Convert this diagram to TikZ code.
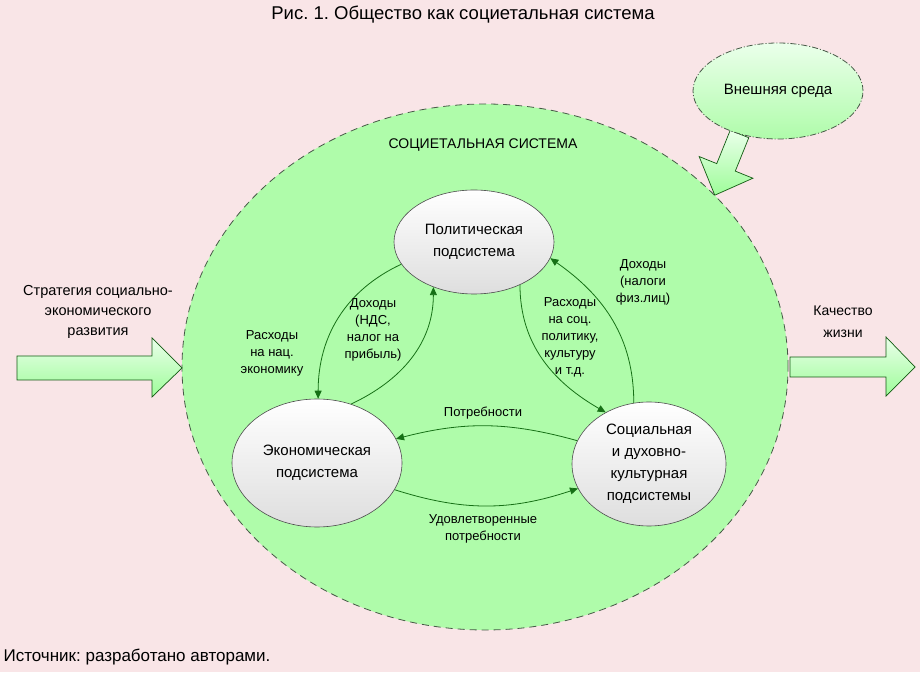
\documentclass[tikz,border=0pt]{standalone}
\usepackage{fontspec}
\setmainfont{Liberation Sans}
\usepackage{tikz}
\usetikzlibrary{arrows.meta, shapes.geometric}
\frenchspacing

\definecolor{bgpink}{RGB}{249,229,231}
\definecolor{sysgreen}{RGB}{175,252,170}
\definecolor{flowgreen}{RGB}{22,112,22}
\definecolor{rimgray}{RGB}{70,88,70}

\begin{document}
\begin{tikzpicture}[x=1pt,y=1pt,>={Triangle[length=8pt,width=7pt]},
        subsys/.style={ellipse,draw=black!70,line width=0.6pt,top color=white,bottom color=black!13,
          inner sep=0pt,align=center,font=\fontsize{15}{22}\selectfont},
        flow/.style={->,draw=flowgreen,line width=0.8pt},
        lbl/.style={align=center,font=\fontsize{13}{17}\selectfont},
        bigarrow/.style={draw=flowgreen!80!black,line width=0.7pt,top color=green!8,bottom color=sysgreen!90!green,line join=miter}]

    \fill[bgpink] (0,0) rectangle (920,672);
    \node[font=\fontsize{18.5}{22}\selectfont] (title) at (463,657) {Рис. 1. Общество как социетальная система};
    \node[anchor=west,font=\fontsize{17}{20}\selectfont] (source) at (0,15) {Источник: разработано авторами.};

    % societal system
    \node[ellipse,fill=sysgreen,draw=rimgray,line width=0.8pt,dash pattern=on 7pt off 5pt,
          minimum width=606,minimum height=526] (system) at (485,305) {};
    \node[font=\fontsize{14}{17}\selectfont] (syslabel) at (483,527) {СОЦИЕТАЛЬНАЯ СИСТЕМА};

    % inputs and outputs
    \draw[bigarrow] (17,292) -- (152,292) -- (152,275) -- (182,304) -- (152,334) -- (152,316) -- (17,316) -- cycle;
    \draw[bigarrow] (790,295) -- (886,295) -- (886,276) -- (915,305) -- (886,335) -- (886,315) -- (790,315) -- cycle;
    \begin{scope}[shift={(739.5,538)},rotate=248]
        \draw[bigarrow] (0,10) -- (36,10) -- (36,29) -- (66,0) -- (36,-29) -- (36,-10) -- (0,-10) -- cycle;
    \end{scope}
    \node[ellipse,draw=rimgray,line width=0.8pt,dash pattern=on 6pt off 2pt on 1pt off 2pt,
          top color=green!8,bottom color=sysgreen,minimum width=170,minimum height=96,
          font=\fontsize{15}{18}\selectfont] (env) at (778,581) {Внешняя среда};

    \node[lbl,font=\fontsize{14.5}{20}\selectfont] (strategy) at (98,360) {Стратегия социально-\\экономического\\развития};
    \node[lbl,font=\fontsize{14}{22}\selectfont] (quality) at (843,350) {Качество\\жизни};

    % subsystems
    \node[subsys,minimum width=160,minimum height=104] (pol) at (474,430) {Политическая\\подсистема};
    \node[subsys,minimum width=170,minimum height=128] (eco) at (317,209) {Экономическая\\подсистема};
    \node[subsys,minimum width=154,minimum height=124] (soc) at (649,208) {Социальная\\и духовно-\\культурная\\подсистемы};

    % flows
    \draw[flow] (pol.197) to[out=205,in=90] (eco.89);
    \draw[flow] (eco.60) to[out=25,in=-90] (pol.228);
    \draw[flow] (pol.317) to[out=-90,in=150] (soc.130);
    \draw[flow] (soc.104) to[out=90,in=-35] (pol.348);
    \draw[flow] (soc.162) to[bend right=15] (eco.17);
    \draw[flow] (eco.341) to[bend right=18] (soc.199);

    \node[lbl] (ecoexp) at (272,319) {Расходы\\на нац.\\экономику};
    \node[lbl] (ecoinc) at (373,342) {Доходы\\(НДС,\\налог на\\прибыль)};
    \node[lbl] (socexp) at (570,335) {Расходы\\на соц.\\политику,\\культуру\\и т.д.};
    \node[lbl] (socinc) at (643,390) {Доходы\\(налоги\\физ.лиц)};
    \node[lbl] (needs) at (483,259) {Потребности};
    \node[lbl] (metneeds) at (483,143) {Удовлетворенные\\потребности};
\end{tikzpicture}
\end{document}
